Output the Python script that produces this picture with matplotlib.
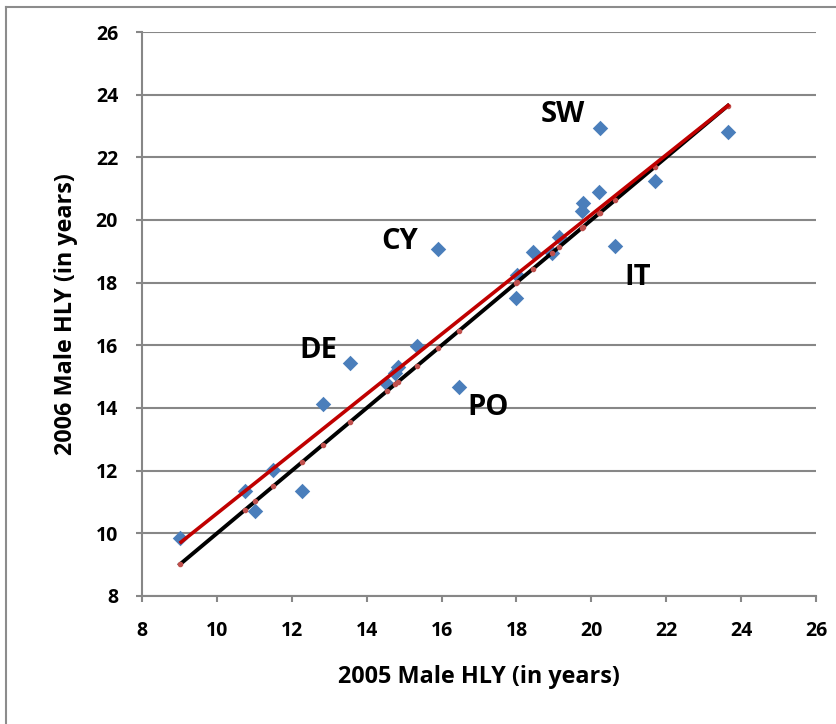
import matplotlib
matplotlib.use("Agg")
import matplotlib.pyplot as plt
from matplotlib.lines import Line2D

plt.rcParams['font.family'] = ['Open Sans', 'DejaVu Sans']

hly_2005 = [9.01, 10.75, 11.02, 11.50, 12.27, 12.83, 13.56, 14.54, 14.76, 14.84,
            15.34, 15.91, 16.47, 17.99, 18.02, 18.44, 18.95, 19.14, 19.75, 19.78,
            20.21, 20.23, 20.63, 21.70, 23.65]
hly_2006 = [9.85, 11.35, 10.71, 12.02, 11.35, 14.13, 15.44, 14.77, 15.12, 15.31,
            15.98, 19.07, 14.67, 17.51, 18.24, 18.98, 18.95, 19.46, 20.29, 20.54,
            20.89, 22.94, 19.17, 21.24, 22.81]

trend_x = [9.04, 23.65]
trend_y = [9.72, 23.65]

country_labels = ["SW", "CY", "IT", "DE", "PO"]
label_x = [19.24, 14.89, 21.25, 12.70, 17.24]
label_y = [23.13, 19.07, 17.92, 15.59, 13.78]

ticks = [8, 10, 12, 14, 16, 18, 20, 22, 24, 26]

fig = plt.figure(figsize=(8.36, 7.24), dpi=100)
ax = fig.add_axes([0.170, 0.1768, 0.806, 0.779])

gray = '#878787'
ax.set_xlim(8, 26)
ax.set_ylim(8, 26)
ax.set_xticks(ticks)
ax.set_yticks(ticks)
ax.yaxis.grid(True, color=gray, linewidth=1.5)
ax.set_axisbelow(True)
for s in ['top', 'right']:
    ax.spines[s].set_visible(False)
for s in ['left', 'bottom']:
    ax.spines[s].set_color(gray)
    ax.spines[s].set_linewidth(1.5)
ax.tick_params(axis='both', direction='out', length=4.3, width=1.5, color=gray,
               labelsize=14)
ax.tick_params(axis='y', pad=13)
ax.tick_params(axis='x', pad=14)
for lab in ax.get_xticklabels() + ax.get_yticklabels():
    lab.set_fontweight('bold')

ax.scatter(hly_2005, hly_2006, marker='D', s=62, color='#4a7ebb', zorder=3,
           linewidths=0)

diag_x = sorted(hly_2005)
ax.plot(diag_x, diag_x, color='black', linewidth=2.8, zorder=4,
        marker='o', markersize=3, markerfacecolor='#c0504d', markeredgecolor='#c0504d')
ax.plot(trend_x, trend_y, color='#c00000', linewidth=2.6, zorder=5)

for t, x, y in zip(country_labels, label_x, label_y):
    ax.text(x, y, t, fontsize=21, fontweight='bold', ha='center', va='baseline')

ax.set_xlabel('2005 Male HLY (in years)', fontsize=16.8, fontweight='bold')
ax.xaxis.label.set_verticalalignment('baseline')
ax.xaxis.set_label_coords(0.5, -0.154)
ax.set_ylabel('2006 Male HLY (in years)', fontsize=16.8, fontweight='bold')
ax.yaxis.label.set_verticalalignment('center')
ax.yaxis.set_label_coords(-0.113, 0.5)

fig.add_artist(Line2D([0.0066, 1.0], [0.991, 0.991], transform=fig.transFigure,
                      color='#8c8c8c', linewidth=1.5))
fig.add_artist(Line2D([0.0066, 0.0066], [0.0, 0.991], transform=fig.transFigure,
                      color='#8c8c8c', linewidth=1.5))

fig.savefig('out.png', dpi=100)
